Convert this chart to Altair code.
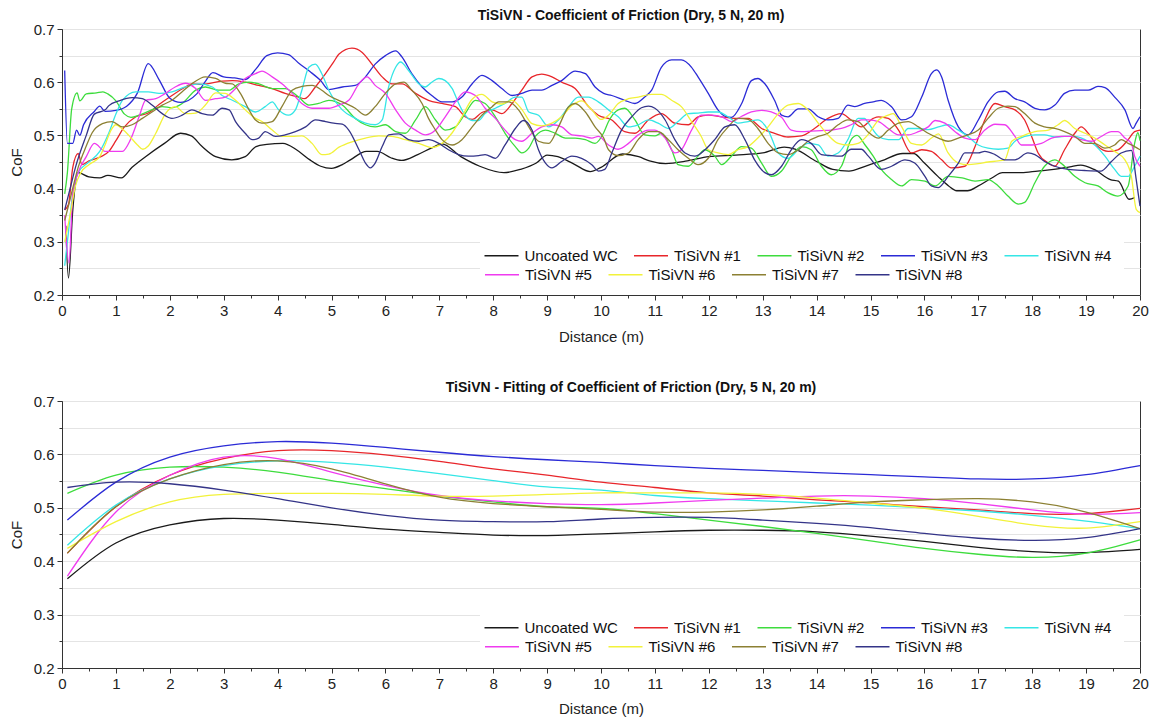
import altair as alt
import pandas as pd

SERIES = ["Uncoated WC", "TiSiVN #1", "TiSiVN #2", "TiSiVN #3", "TiSiVN #4",
          "TiSiVN #5", "TiSiVN #6", "TiSiVN #7", "TiSiVN #8"]
COLORS = ["#1a1a1a", "#e8262b", "#3ddc3d", "#2b2bd6", "#35e6e6",
          "#ef3bef", "#f2f23a", "#8c8033", "#343488"]

TITLE_TOP = "TiSiVN - Coefficient of Friction (Dry, 5 N, 20 m)"
TITLE_BOTTOM = "TiSiVN - Fitting of Coefficient of Friction (Dry, 5 N, 20 m)"
X_TITLE = "Distance (m)"
Y_TITLE = "CoF"

# ---- measured CoF (distance m, CoF) ----
raw_wc = [(0.07,0.33),(0.12,0.232),(0.2,0.36),(0.3,0.43),(0.5,0.422),(0.7,0.42),(0.85,0.425),(1.1,0.42),(1.3,0.44),(1.55,0.46),(1.9,0.485),(2.2,0.504),(2.4,0.499),(2.6,0.479),(2.85,0.46),(3.15,0.454),(3.4,0.46),(3.6,0.479),(3.8,0.483),(4.1,0.485),(4.35,0.473),(4.6,0.454),(4.8,0.442),(5.0,0.438),(5.2,0.445),(5.35,0.454),(5.65,0.47),(5.85,0.47),(6.1,0.458),(6.3,0.453),(6.6,0.464),(6.85,0.476),(7.05,0.484),(7.4,0.46),(7.75,0.442),(8.2,0.43),(8.5,0.436),(8.8,0.448),(9.0,0.463),(9.2,0.46),(9.5,0.446),(9.8,0.432),(10.0,0.44),(10.4,0.465),(10.7,0.46),(10.9,0.452),(11.2,0.447),(11.6,0.452),(12.0,0.46),(12.5,0.463),(13.0,0.467),(13.4,0.478),(13.6,0.474),(14.0,0.451),(14.3,0.436),(14.6,0.433),(14.9,0.442),(15.2,0.452),(15.6,0.466),(15.8,0.466),(16.0,0.448),(16.25,0.423),(16.45,0.405),(16.6,0.396),(16.8,0.396),(17.0,0.405),(17.25,0.42),(17.45,0.43),(17.8,0.43),(18.1,0.433),(18.4,0.436),(18.7,0.441),(18.9,0.444),(19.15,0.436),(19.45,0.417),(19.6,0.414),(19.8,0.38),(19.9,0.383)]
raw_1 = [(0.05,0.36),(0.12,0.37),(0.2,0.44),(0.3,0.466),(0.37,0.445),(0.5,0.452),(0.72,0.46),(0.87,0.47),(1.0,0.49),(1.15,0.515),(1.37,0.535),(1.6,0.542),(1.8,0.558),(2.04,0.575),(2.29,0.591),(2.41,0.597),(2.6,0.596),(2.97,0.602),(3.16,0.603),(3.4,0.6),(3.65,0.594),(3.9,0.588),(4.14,0.579),(4.39,0.572),(4.5,0.569),(4.7,0.591),(4.89,0.616),(5.04,0.638),(5.14,0.653),(5.38,0.664),(5.57,0.656),(5.75,0.634),(5.94,0.61),(6.12,0.597),(6.31,0.597),(6.56,0.579),(6.8,0.566),(7.05,0.56),(7.3,0.554),(7.48,0.535),(7.61,0.53),(7.79,0.543),(7.98,0.548),(8.16,0.541),(8.35,0.56),(8.53,0.585),(8.72,0.61),(8.9,0.615),(9.09,0.61),(9.27,0.6),(9.52,0.588),(9.77,0.554),(9.95,0.538),(10.2,0.529),(10.44,0.507),(10.63,0.504),(10.88,0.529),(11.12,0.541),(11.37,0.523),(11.62,0.52),(11.8,0.535),(11.99,0.538),(12.24,0.535),(12.48,0.532),(12.73,0.532),(12.98,0.513),(13.22,0.504),(13.47,0.497),(13.72,0.499),(13.96,0.513),(14.21,0.532),(14.46,0.541),(14.64,0.529),(14.83,0.516),(15.05,0.532),(15.15,0.535),(15.33,0.532),(15.52,0.51),(15.76,0.467),(15.95,0.473),(16.13,0.47),(16.32,0.454),(16.5,0.439),(16.75,0.442),(16.94,0.479),(17.12,0.529),(17.31,0.56),(17.49,0.554),(17.68,0.548),(17.86,0.529),(17.99,0.498),(18.11,0.467),(18.3,0.448),(18.42,0.442),(18.6,0.473),(18.79,0.504),(18.91,0.516),(19.04,0.504),(19.22,0.479),(19.41,0.47),(19.59,0.473),(19.78,0.492),(19.9,0.507),(20.0,0.51)]
raw_2 = [(0.05,0.39),(0.1,0.43),(0.18,0.55),(0.28,0.58),(0.33,0.565),(0.45,0.578),(0.64,0.58),(0.76,0.582),(0.85,0.578),(1.0,0.565),(1.16,0.54),(1.28,0.534),(1.43,0.538),(1.6,0.545),(1.86,0.554),(2.04,0.552),(2.23,0.56),(2.48,0.585),(2.66,0.591),(2.91,0.585),(3.1,0.585),(3.28,0.597),(3.47,0.6),(3.65,0.597),(3.9,0.588),(4.14,0.588),(4.39,0.572),(4.58,0.557),(4.76,0.56),(4.95,0.566),(5.2,0.557),(5.44,0.532),(5.63,0.52),(5.81,0.516),(6.0,0.52),(6.19,0.507),(6.37,0.504),(6.56,0.529),(6.74,0.554),(6.93,0.529),(7.11,0.51),(7.3,0.516),(7.48,0.541),(7.67,0.566),(7.85,0.56),(8.04,0.535),(8.22,0.504),(8.41,0.479),(8.53,0.467),(8.66,0.476),(8.78,0.498),(8.97,0.51),(9.15,0.504),(9.34,0.495),(9.52,0.495),(9.71,0.492),(9.89,0.485),(10.05,0.505),(10.14,0.526),(10.32,0.548),(10.44,0.551),(10.63,0.529),(10.81,0.501),(11.0,0.499),(11.12,0.504),(11.31,0.473),(11.43,0.445),(11.62,0.442),(11.8,0.461),(11.93,0.473),(12.11,0.461),(12.24,0.445),(12.42,0.461),(12.61,0.479),(12.79,0.476),(12.98,0.448),(13.16,0.423),(13.35,0.433),(13.53,0.461),(13.72,0.479),(13.9,0.473),(14.09,0.442),(14.27,0.426),(14.46,0.442),(14.64,0.492),(14.75,0.5),(14.9,0.482),(15.05,0.461),(15.2,0.436),(15.39,0.417),(15.58,0.405),(15.76,0.417),(16.01,0.414),(16.2,0.405),(16.44,0.423),(16.7,0.42),(16.94,0.414),(17.18,0.417),(17.37,0.405),(17.55,0.386),(17.74,0.371),(17.86,0.374),(18.05,0.411),(18.23,0.442),(18.42,0.454),(18.6,0.442),(18.79,0.423),(18.98,0.411),(19.22,0.405),(19.41,0.392),(19.59,0.386),(19.78,0.405),(19.9,0.485),(19.96,0.505),(20.0,0.49)]
raw_3 = [(0.05,0.622),(0.1,0.485),(0.2,0.485),(0.27,0.51),(0.33,0.5),(0.4,0.52),(0.6,0.545),(0.7,0.555),(0.8,0.545),(1.0,0.547),(1.2,0.555),(1.4,0.58),(1.6,0.635),(1.8,0.605),(2.0,0.57),(2.2,0.562),(2.5,0.578),(2.65,0.6),(2.8,0.618),(3.0,0.61),(3.2,0.608),(3.4,0.605),(3.6,0.625),(3.8,0.65),(4.0,0.655),(4.2,0.652),(4.4,0.635),(4.6,0.62),(4.8,0.603),(4.95,0.586),(5.2,0.591),(5.44,0.594),(5.63,0.61),(5.81,0.634),(6.0,0.65),(6.19,0.659),(6.31,0.647),(6.49,0.616),(6.68,0.591),(6.86,0.575),(7.05,0.563),(7.24,0.563),(7.42,0.572),(7.61,0.597),(7.79,0.613),(7.98,0.603),(8.16,0.588),(8.35,0.575),(8.53,0.579),(8.72,0.585),(8.9,0.585),(9.09,0.594),(9.27,0.603),(9.52,0.621),(9.71,0.616),(9.89,0.591),(10.05,0.579),(10.2,0.575),(10.44,0.566),(10.63,0.56),(10.81,0.572),(10.94,0.585),(11.12,0.628),(11.31,0.642),(11.49,0.642),(11.68,0.628),(11.8,0.61),(11.99,0.579),(12.17,0.548),(12.3,0.536),(12.42,0.534),(12.61,0.56),(12.79,0.603),(12.91,0.607),(13.04,0.597),(13.22,0.566),(13.35,0.538),(13.47,0.535),(13.66,0.55),(13.84,0.55),(14.03,0.535),(14.21,0.529),(14.4,0.532),(14.58,0.557),(14.71,0.554),(14.89,0.56),(15.05,0.563),(15.2,0.566),(15.39,0.554),(15.58,0.529),(15.76,0.535),(15.95,0.572),(16.13,0.616),(16.23,0.623),(16.32,0.61),(16.44,0.566),(16.63,0.516),(16.81,0.501),(17.0,0.529),(17.18,0.563),(17.37,0.582),(17.49,0.583),(17.68,0.569),(17.86,0.563),(18.05,0.551),(18.23,0.548),(18.42,0.557),(18.6,0.579),(18.79,0.585),(19.04,0.585),(19.22,0.592),(19.35,0.59),(19.53,0.572),(19.72,0.548),(19.87,0.513),(19.93,0.523),(20.0,0.535)]
raw_4 = [(0.05,0.255),(0.1,0.3),(0.2,0.39),(0.3,0.43),(0.5,0.45),(0.7,0.47),(0.87,0.505),(1.0,0.54),(1.12,0.566),(1.37,0.582),(1.6,0.582),(1.8,0.579),(2.04,0.582),(2.29,0.591),(2.54,0.597),(2.79,0.591),(2.97,0.575),(3.16,0.566),(3.4,0.554),(3.59,0.544),(3.77,0.554),(3.9,0.563),(4.02,0.548),(4.2,0.538),(4.33,0.548),(4.45,0.585),(4.58,0.628),(4.7,0.634),(4.82,0.616),(4.95,0.585),(5.2,0.548),(5.44,0.532),(5.63,0.523),(5.81,0.52),(5.94,0.529),(6.06,0.591),(6.19,0.628),(6.28,0.638),(6.43,0.622),(6.62,0.597),(6.74,0.591),(6.86,0.6),(6.99,0.607),(7.11,0.603),(7.24,0.588),(7.36,0.56),(7.48,0.538),(7.61,0.528),(7.73,0.528),(7.85,0.541),(8.04,0.551),(8.22,0.56),(8.41,0.572),(8.53,0.572),(8.66,0.544),(8.84,0.538),(9.03,0.516),(9.21,0.529),(9.4,0.554),(9.58,0.572),(9.77,0.572),(9.95,0.563),(10.14,0.548),(10.32,0.535),(10.51,0.516),(10.69,0.52),(10.88,0.529),(11.06,0.523),(11.25,0.513),(11.43,0.526),(11.62,0.541),(11.8,0.542),(11.99,0.544),(12.17,0.544),(12.36,0.535),(12.54,0.523),(12.73,0.526),(12.91,0.529),(13.1,0.51),(13.29,0.467),(13.47,0.457),(13.66,0.473),(13.84,0.485),(14.03,0.482),(14.21,0.461),(14.4,0.467),(14.58,0.492),(14.77,0.532),(14.89,0.532),(14.96,0.523),(15.15,0.498),(15.33,0.492),(15.52,0.492),(15.7,0.513),(15.89,0.513),(16.07,0.511),(16.26,0.516),(16.44,0.52),(16.63,0.51),(16.81,0.498),(17.0,0.482),(17.18,0.476),(17.37,0.474),(17.55,0.476),(17.68,0.489),(17.86,0.498),(18.05,0.501),(18.23,0.501),(18.42,0.497),(18.6,0.498),(18.79,0.498),(18.98,0.492),(19.16,0.482),(19.35,0.461),(19.53,0.436),(19.65,0.423),(19.78,0.423),(19.9,0.442),(20.0,0.461)]
raw_5 = [(0.05,0.35),(0.13,0.26),(0.2,0.39),(0.3,0.43),(0.45,0.46),(0.6,0.485),(0.8,0.47),(0.93,0.47),(1.12,0.47),(1.27,0.492),(1.43,0.535),(1.55,0.566),(1.74,0.569),(1.92,0.579),(2.1,0.591),(2.29,0.598),(2.48,0.588),(2.66,0.566),(2.85,0.569),(3.03,0.572),(3.22,0.588),(3.4,0.607),(3.59,0.616),(3.71,0.621),(3.9,0.61),(4.08,0.597),(4.27,0.579),(4.45,0.56),(4.64,0.551),(4.82,0.551),(4.95,0.551),(5.14,0.557),(5.32,0.566),(5.51,0.597),(5.66,0.61),(5.81,0.594),(6.0,0.579),(6.19,0.548),(6.37,0.523),(6.56,0.51),(6.74,0.501),(6.93,0.51),(7.11,0.535),(7.3,0.563),(7.48,0.582),(7.67,0.575),(7.85,0.551),(8.04,0.532),(8.22,0.51),(8.41,0.492),(8.53,0.489),(8.72,0.504),(8.9,0.516),(9.09,0.52),(9.27,0.516),(9.46,0.501),(9.64,0.499),(9.83,0.495),(9.95,0.498),(10.14,0.482),(10.32,0.474),(10.51,0.485),(10.69,0.501),(10.88,0.51),(11.0,0.51),(11.19,0.495),(11.37,0.467),(11.49,0.473),(11.68,0.51),(11.86,0.538),(12.05,0.538),(12.24,0.535),(12.42,0.526),(12.61,0.536),(12.79,0.544),(12.98,0.547),(13.16,0.544),(13.35,0.534),(13.53,0.51),(13.72,0.507),(13.9,0.508),(14.09,0.509),(14.27,0.51),(14.46,0.513),(14.64,0.52),(14.83,0.529),(14.96,0.529),(15.15,0.526),(15.33,0.513),(15.52,0.501),(15.7,0.501),(15.89,0.507),(16.07,0.516),(16.2,0.528),(16.38,0.523),(16.57,0.507),(16.75,0.495),(16.94,0.492),(17.12,0.51),(17.31,0.521),(17.49,0.52),(17.68,0.498),(17.8,0.482),(17.99,0.482),(18.17,0.485),(18.36,0.495),(18.54,0.498),(18.73,0.498),(18.91,0.492),(19.1,0.489),(19.28,0.498),(19.47,0.507),(19.59,0.507),(19.72,0.495),(19.84,0.485),(19.9,0.461),(20.0,0.442)]
raw_6 = [(0.05,0.3),(0.15,0.35),(0.25,0.405),(0.35,0.43),(0.5,0.445),(0.7,0.46),(0.81,0.485),(0.91,0.51),(1.0,0.52),(1.12,0.512),(1.24,0.5),(1.4,0.482),(1.5,0.474),(1.6,0.48),(1.74,0.504),(1.92,0.541),(2.1,0.554),(2.29,0.541),(2.48,0.542),(2.66,0.557),(2.85,0.58),(3.03,0.579),(3.22,0.566),(3.4,0.548),(3.59,0.532),(3.71,0.526),(3.9,0.51),(4.08,0.498),(4.27,0.498),(4.45,0.499),(4.64,0.485),(4.82,0.464),(4.95,0.465),(5.14,0.478),(5.38,0.488),(5.63,0.495),(5.88,0.499),(6.12,0.498),(6.37,0.492),(6.62,0.485),(6.86,0.477),(7.05,0.485),(7.24,0.505),(7.42,0.535),(7.61,0.568),(7.79,0.577),(7.98,0.563),(8.16,0.559),(8.35,0.566),(8.53,0.549),(8.72,0.522),(8.9,0.518),(9.09,0.523),(9.27,0.535),(9.46,0.556),(9.64,0.565),(9.83,0.548),(10.0,0.53),(10.14,0.538),(10.32,0.56),(10.51,0.569),(10.69,0.572),(10.94,0.577),(11.12,0.577),(11.31,0.566),(11.49,0.554),(11.68,0.526),(11.86,0.498),(11.99,0.473),(12.17,0.467),(12.36,0.464),(12.54,0.473),(12.73,0.479),(12.91,0.495),(13.1,0.516),(13.29,0.541),(13.47,0.557),(13.66,0.56),(13.84,0.548),(14.03,0.523),(14.21,0.501),(14.4,0.485),(14.58,0.482),(14.77,0.485),(14.95,0.501),(15.15,0.529),(15.33,0.538),(15.42,0.541),(15.58,0.516),(15.76,0.485),(15.95,0.482),(16.13,0.495),(16.26,0.503),(16.44,0.467),(16.63,0.448),(16.81,0.445),(17.0,0.447),(17.18,0.45),(17.37,0.452),(17.49,0.454),(17.62,0.489),(17.8,0.498),(18.05,0.507),(18.3,0.51),(18.48,0.52),(18.6,0.528),(18.79,0.513),(18.98,0.504),(19.16,0.495),(19.35,0.482),(19.53,0.47),(19.72,0.454),(19.84,0.423),(19.93,0.361),(20.0,0.355)]
raw_7 = [(0.05,0.34),(0.15,0.38),(0.3,0.44),(0.45,0.48),(0.56,0.505),(0.75,0.522),(0.93,0.526),(1.12,0.516),(1.3,0.52),(1.49,0.532),(1.67,0.544),(1.86,0.557),(2.04,0.566),(2.23,0.582),(2.41,0.597),(2.66,0.61),(2.85,0.607),(3.03,0.598),(3.16,0.597),(3.31,0.579),(3.47,0.548),(3.59,0.529),(3.71,0.523),(3.9,0.526),(4.08,0.554),(4.27,0.585),(4.45,0.592),(4.64,0.594),(4.82,0.585),(4.95,0.575),(5.2,0.563),(5.44,0.551),(5.63,0.538),(5.81,0.554),(6.0,0.579),(6.19,0.597),(6.34,0.6),(6.49,0.585),(6.68,0.56),(6.8,0.532),(6.93,0.51),(7.05,0.492),(7.24,0.482),(7.42,0.492),(7.61,0.516),(7.79,0.538),(7.98,0.554),(8.1,0.563),(8.29,0.563),(8.47,0.548),(8.66,0.516),(8.84,0.489),(9.03,0.485),(9.21,0.516),(9.4,0.554),(9.52,0.56),(9.71,0.544),(9.89,0.516),(10.05,0.495),(10.14,0.473),(10.32,0.462),(10.51,0.467),(10.69,0.492),(10.88,0.507),(11.06,0.507),(11.25,0.492),(11.43,0.473),(11.62,0.457),(11.8,0.445),(11.99,0.457),(12.17,0.492),(12.36,0.516),(12.54,0.532),(12.73,0.53),(12.91,0.513),(13.1,0.485),(13.29,0.467),(13.47,0.464),(13.66,0.473),(13.84,0.489),(14.03,0.498),(14.21,0.504),(14.4,0.52),(14.58,0.529),(14.77,0.526),(14.95,0.507),(15.15,0.495),(15.33,0.51),(15.52,0.523),(15.7,0.526),(15.89,0.516),(16.07,0.504),(16.26,0.495),(16.44,0.489),(16.63,0.495),(16.81,0.501),(17.0,0.51),(17.18,0.532),(17.37,0.551),(17.55,0.555),(17.68,0.554),(17.86,0.541),(18.05,0.523),(18.23,0.516),(18.42,0.513),(18.6,0.507),(18.79,0.498),(18.98,0.485),(19.16,0.485),(19.35,0.476),(19.53,0.482),(19.65,0.492),(19.78,0.485),(19.9,0.479),(20.0,0.473)]
raw_8 = [(0.05,0.36),(0.15,0.4),(0.25,0.44),(0.45,0.5),(0.6,0.54),(0.8,0.548),(0.87,0.556),(1.06,0.565),(1.3,0.571),(1.49,0.569),(1.67,0.557),(1.86,0.541),(2.04,0.532),(2.23,0.538),(2.41,0.548),(2.6,0.541),(2.79,0.538),(2.97,0.551),(3.1,0.548),(3.22,0.526),(3.4,0.504),(3.53,0.492),(3.65,0.495),(3.77,0.507),(3.96,0.498),(4.14,0.501),(4.33,0.507),(4.52,0.516),(4.7,0.529),(4.89,0.526),(5.04,0.523),(5.2,0.521),(5.32,0.51),(5.51,0.473),(5.63,0.448),(5.72,0.439),(5.81,0.448),(5.94,0.479),(6.06,0.501),(6.25,0.503),(6.43,0.492),(6.62,0.489),(6.8,0.492),(6.99,0.485),(7.17,0.473),(7.36,0.464),(7.54,0.461),(7.73,0.462),(7.85,0.464),(8.04,0.457),(8.22,0.482),(8.41,0.513),(8.56,0.528),(8.72,0.51),(8.84,0.473),(8.97,0.448),(9.09,0.439),(9.27,0.451),(9.46,0.461),(9.64,0.457),(9.83,0.445),(9.95,0.433),(10.07,0.436),(10.2,0.467),(10.38,0.51),(10.57,0.535),(10.75,0.552),(10.88,0.555),(11.0,0.551),(11.19,0.529),(11.37,0.492),(11.56,0.467),(11.74,0.461),(11.93,0.473),(12.11,0.492),(12.3,0.516),(12.48,0.52),(12.67,0.492),(12.85,0.454),(13.04,0.43),(13.16,0.426),(13.35,0.442),(13.53,0.473),(13.72,0.492),(13.9,0.485),(14.09,0.464),(14.27,0.462),(14.46,0.461),(14.64,0.474),(14.83,0.474),(14.96,0.461),(15.2,0.436),(15.39,0.442),(15.64,0.454),(15.82,0.448),(16.01,0.423),(16.13,0.405),(16.26,0.402),(16.44,0.423),(16.63,0.448),(16.75,0.467),(17.0,0.467),(17.12,0.47),(17.31,0.464),(17.49,0.454),(17.68,0.454),(17.92,0.467),(18.05,0.464),(18.23,0.451),(18.42,0.442),(18.67,0.436),(18.98,0.434),(19.28,0.433),(19.47,0.451),(19.65,0.467),(19.84,0.472),(19.93,0.417),(20.0,0.367)]

# ---- fitted curves, sampled at these distances ----
fit_d = [0.1, 1, 2, 3, 4, 5, 6, 7, 8, 9, 10, 11, 12, 13, 14, 15, 16, 17, 18, 19, 20]
fit_wc = [0.367, 0.434, 0.468, 0.480, 0.477, 0.469, 0.460, 0.454, 0.449, 0.448, 0.451, 0.455, 0.458, 0.458, 0.455, 0.447, 0.437, 0.426, 0.418, 0.416, 0.422]
fit_1 = [0.415, 0.502, 0.561, 0.592, 0.607, 0.607, 0.599, 0.587, 0.573, 0.561, 0.548, 0.538, 0.528, 0.522, 0.515, 0.509, 0.502, 0.496, 0.489, 0.489, 0.499]
fit_2 = [0.527, 0.561, 0.576, 0.576, 0.567, 0.551, 0.536, 0.522, 0.511, 0.502, 0.499, 0.489, 0.477, 0.465, 0.452, 0.438, 0.424, 0.413, 0.407, 0.415, 0.440]
fit_3 = [0.477, 0.548, 0.595, 0.616, 0.624, 0.621, 0.613, 0.604, 0.596, 0.590, 0.585, 0.579, 0.574, 0.570, 0.566, 0.562, 0.558, 0.554, 0.554, 0.562, 0.579]
fit_4 = [0.430, 0.505, 0.554, 0.579, 0.588, 0.585, 0.576, 0.564, 0.551, 0.539, 0.533, 0.523, 0.517, 0.513, 0.509, 0.505, 0.500, 0.494, 0.486, 0.475, 0.461]
fit_5 = [0.372, 0.492, 0.561, 0.595, 0.592, 0.567, 0.542, 0.523, 0.513, 0.508, 0.506, 0.509, 0.514, 0.518, 0.522, 0.522, 0.517, 0.508, 0.496, 0.488, 0.491]
fit_6 = [0.424, 0.474, 0.511, 0.525, 0.527, 0.527, 0.525, 0.522, 0.522, 0.525, 0.528, 0.528, 0.528, 0.525, 0.518, 0.509, 0.499, 0.484, 0.468, 0.462, 0.474]
fit_7 = [0.415, 0.502, 0.554, 0.581, 0.588, 0.573, 0.545, 0.520, 0.508, 0.502, 0.497, 0.492, 0.492, 0.496, 0.503, 0.511, 0.515, 0.517, 0.511, 0.492, 0.461]
fit_8 = [0.538, 0.548, 0.545, 0.533, 0.517, 0.500, 0.486, 0.477, 0.474, 0.474, 0.479, 0.482, 0.482, 0.477, 0.471, 0.463, 0.452, 0.443, 0.439, 0.444, 0.461]

RAW = [raw_wc, raw_1, raw_2, raw_3, raw_4, raw_5, raw_6, raw_7, raw_8]
FIT = [fit_wc, fit_1, fit_2, fit_3, fit_4, fit_5, fit_6, fit_7, fit_8]

raw_rows = []
for name, pts in zip(SERIES, RAW):
    for d, v in pts:
        raw_rows.append({"series": name, "d": d, "cof": v})
raw_df = pd.DataFrame(raw_rows)

fit_rows = []
for name, vals in zip(SERIES, FIT):
    for d, v in zip(fit_d, vals):
        fit_rows.append({"series": name, "d": d, "cof": v})
fit_df = pd.DataFrame(fit_rows)

FONT = "Liberation Sans"
y_vals = [round(0.2 + 0.05 * i, 2) for i in range(11)]
x_vals = [0.5 * i for i in range(41)]
Y_MAJOR = "abs(datum.value*10 - round(datum.value*10)) < 0.001"
X_MAJOR = "abs(datum.value - round(datum.value)) < 0.001"
ROW1 = SERIES[:5]
ROW2 = SERIES[5:]


def legend_for(lx, ly, ncol, pad, fill):
    kw = dict(
        title=None, orient="none", legendX=lx, legendY=ly,
        direction="horizontal", columns=ncol,
        symbolType="M-2,0L2,0", symbolSize=289, symbolStrokeWidth=1.5,
        labelFont=FONT, labelFontSize=15, labelColor="#111",
        labelOffset=13.5, columnPadding=12.5, rowPadding=1, padding=pad,
    )
    if fill:
        kw["fillColor"] = "white"
    return alt.Legend(**kw)


def panel(df, title, interp, x_title_pad, h):
    x = alt.X("d:Q", title=X_TITLE,
              scale=alt.Scale(domain=[0, 20], nice=False, zero=False),
              axis=alt.Axis(values=x_vals, grid=False,
                            labelExpr=X_MAJOR + " ? format(datum.value, 'd') : ''",
                            tickSize={"condition": {"test": X_MAJOR, "value": 5}, "value": 3},
                            labelFlush=False, labelOverlap=False, titlePadding=x_title_pad))
    y = alt.Y("cof:Q", title=Y_TITLE,
              scale=alt.Scale(domain=[0.2, 0.7], nice=False, zero=False),
              axis=alt.Axis(values=y_vals, grid=True, gridColor="#e4e4e4",
                            labelExpr=Y_MAJOR + " ? format(datum.value, '.1f') : ''",
                            tickSize={"condition": {"test": Y_MAJOR, "value": 5}, "value": 3},
                            labelFlush=False, labelOverlap=False, titlePadding=9))
    base = alt.Chart(df)
    first = base.transform_filter(
        alt.FieldOneOfPredicate(field="series", oneOf=ROW1)
    ).mark_line(strokeWidth=1.3, interpolate=interp).encode(
        x=x, y=y,
        color=alt.Color("series:N", sort=ROW1,
                        scale=alt.Scale(domain=ROW1, range=COLORS[:5]),
                        legend=legend_for(418, 205, 5, 12, True)),
    )
    second = base.transform_filter(
        alt.FieldOneOfPredicate(field="series", oneOf=ROW2)
    ).mark_line(strokeWidth=1.3, interpolate=interp).encode(
        x=x, y=y,
        stroke=alt.Stroke("series:N", sort=ROW2,
                          scale=alt.Scale(domain=ROW2, range=COLORS[5:]),
                          legend=legend_for(428.5, 234, 4, 2, False)),
    )
    return alt.layer(first, second).properties(
        width=1078, height=h,
        title=alt.TitleParams(title, anchor="middle", dx=30, font=FONT, fontSize=14,
                              fontWeight="bold", color="#111", offset=-1),
    )


top = panel(raw_df, TITLE_TOP, "monotone", 11, 266)
bottom = panel(fit_df, TITLE_BOTTOM, "natural", 10, 267)

chart = alt.vconcat(top, bottom, spacing=35).resolve_scale(
    color="independent", stroke="independent"
).properties(
    padding={"left": 0, "top": 0, "right": 0, "bottom": 0}
).configure_view(
    stroke="#333", strokeWidth=1
).configure_axis(
    domainColor="#333", tickColor="#333", labelFont=FONT, labelFontSize=15,
    labelColor="#222", titleFont=FONT, titleFontSize=15, titleFontWeight="normal",
    titleColor="#222", labelPadding=3,
)

chart.save("out.html", embed_options={"renderer": "svg", "actions": False})
